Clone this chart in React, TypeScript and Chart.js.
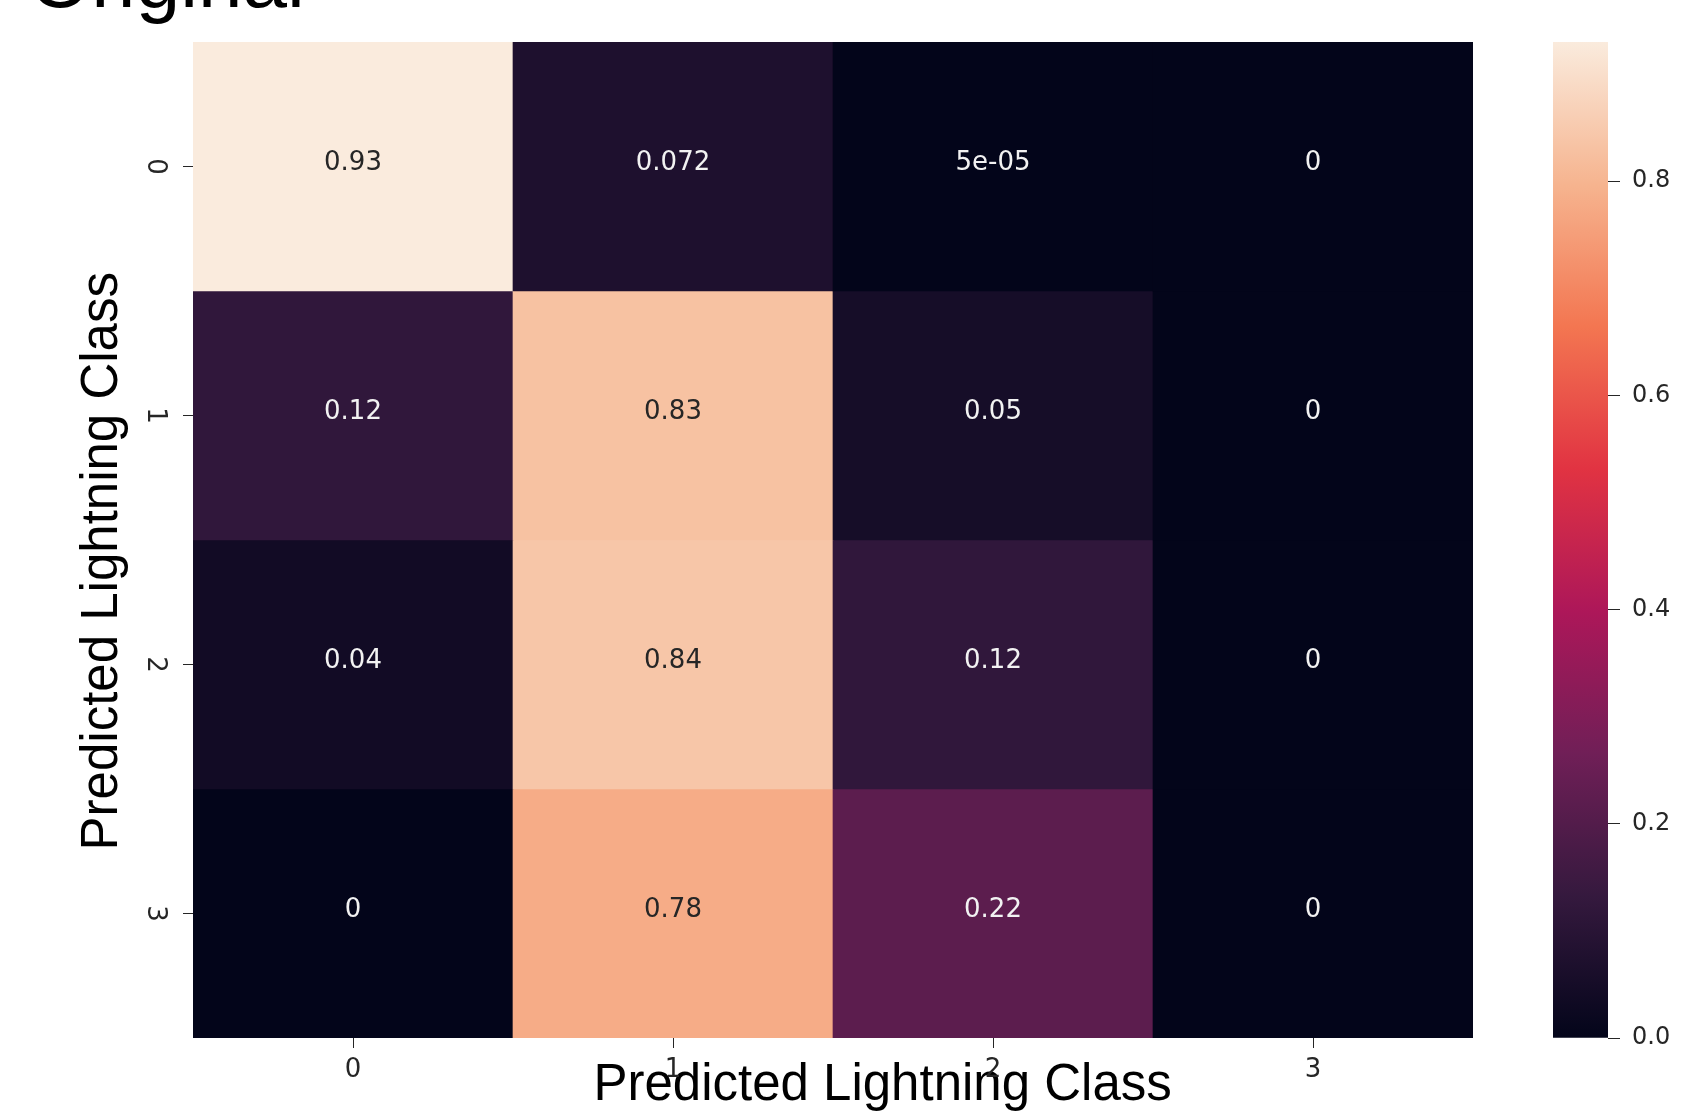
import React, { useEffect, useRef } from 'react';
import { Chart, registerables } from 'chart.js';

Chart.register(...registerables);

// ---------- data ----------
const ROW_LABELS = ['0', '1', '2', '3'];
const COL_LABELS = ['0', '1', '2', '3'];
const ROW_0 = [0.93, 0.072, 0.00005, 0];
const ROW_1 = [0.12, 0.83, 0.05, 0];
const ROW_2 = [0.04, 0.84, 0.12, 0];
const ROW_3 = [0, 0.78, 0.22, 0];
const MATRIX = [ROW_0, ROW_1, ROW_2, ROW_3];
const COLORBAR_TICKS = [0, 0.2, 0.4, 0.6, 0.8];
const X_TITLE = 'Predicted Lightning Class';
const Y_TITLE = 'Predicted Lightning Class';
const FIGURE_LABEL = 'Original';

const VMIN = 0;
const VMAX = Math.max(...MATRIX.flat());

// ---------- style ----------
const TICK_COLOR = '#262626';
const TICK_FONT = { family: '"DejaVu Sans", sans-serif', size: 26 };
const CB_FONT = { family: '"DejaVu Sans", sans-serif', size: 24 };
const TITLE_FONT = { family: '"Liberation Sans", Arial, Helvetica, sans-serif', size: 51, weight: 'normal' as const };

// seaborn "rocket" colormap anchors
const ROCKET_STOPS: [number, string][] = [
  [0, '#03051a'],
  [1 / 7, '#35193e'],
  [2 / 7, '#701f57'],
  [3 / 7, '#ad1759'],
  [4 / 7, '#e13342'],
  [5 / 7, '#f37651'],
  [6 / 7, '#f6b48f'],
  [1, '#faebdd'],
];

function hexToRgb(h: string): number[] {
  const n = parseInt(h.slice(1), 16);
  return [(n >> 16) & 255, (n >> 8) & 255, n & 255];
}

function rocketRgb(t: number): number[] {
  const tt = Math.max(0, Math.min(1, t));
  for (let i = 0; i < ROCKET_STOPS.length - 1; i++) {
    const [t0, c0] = ROCKET_STOPS[i];
    const [t1, c1] = ROCKET_STOPS[i + 1];
    if (tt <= t1) {
      const f = (tt - t0) / (t1 - t0);
      const a = hexToRgb(c0);
      const b = hexToRgb(c1);
      return a.map((v, k) => Math.round(v + (b[k] - v) * f));
    }
  }
  return hexToRgb(ROCKET_STOPS[ROCKET_STOPS.length - 1][1]);
}

function rgbStr(c: number[]): string {
  return `rgb(${c[0]},${c[1]},${c[2]})`;
}

function norm(v: number): number {
  return (v - VMIN) / (VMAX - VMIN);
}

function relLuminance(c: number[]): number {
  const lin = c.map((v) => {
    const s = v / 255;
    return s <= 0.03928 ? s / 12.92 : Math.pow((s + 0.055) / 1.055, 2.4);
  });
  return 0.2126 * lin[0] + 0.7152 * lin[1] + 0.0722 * lin[2];
}

function fmt2g(v: number): string {
  if (v === 0) return '0';
  if (Math.abs(v) < 1e-4) {
    const [m, e] = v.toExponential().split('e');
    const ex = parseInt(e, 10);
    return `${m}e${ex < 0 ? '-' : '+'}${String(Math.abs(ex)).padStart(2, '0')}`;
  }
  return String(Number(v.toPrecision(2)));
}

const annotationPlugin = {
  id: 'cellAnnotations',
  afterDatasetsDraw(chart: any) {
    const { ctx } = chart;
    ctx.save();
    ctx.font = `26px "DejaVu Sans", sans-serif`;
    ctx.textAlign = 'center';
    ctx.textBaseline = 'middle';
    MATRIX.forEach((row, r) => {
      const meta = chart.getDatasetMeta(r);
      row.forEach((v, c) => {
        const el = meta.data[c];
        if (!el) return;
        const { x, y } = el.getCenterPoint();
        const lum = relLuminance(rocketRgb(norm(v)));
        ctx.fillStyle = lum > 0.408 ? '#262626' : '#f2f2f2';
        ctx.fillText(fmt2g(v), x, y - 3);
      });
    });
    ctx.restore();
  },
};

function Heatmap() {
  const ref = useRef<HTMLCanvasElement | null>(null);
  useEffect(() => {
    if (!ref.current) return;
    const datasets = MATRIX.map((row, r) => ({
      label: `row ${ROW_LABELS[r]}`,
      data: row.map(() => [r - 0.5, r + 0.5]),
      backgroundColor: row.map((v) => rgbStr(rocketRgb(norm(v)))),
      borderWidth: 0,
      barPercentage: 1,
      categoryPercentage: 1,
      grouped: false,
    }));
    const chart = new Chart(ref.current, {
      type: 'bar',
      data: { labels: COL_LABELS, datasets: datasets as any },
      options: {
        animation: false,
        responsive: false,
        events: [],
        layout: { padding: { left: 0, right: 67, top: 42, bottom: 0 } },
        plugins: { legend: { display: false }, tooltip: { enabled: false } },
        scales: {
          x: {
            type: 'category',
            position: 'bottom',
            offset: true,
            grid: {
              drawOnChartArea: false,
              drawTicks: true,
              tickLength: 10,
              color: TICK_COLOR,
              lineWidth: 1,
              offset: false,
            },
            border: { display: false },
            ticks: { font: TICK_FONT, color: TICK_COLOR, padding: 7, maxRotation: 0, minRotation: 0 },
            title: {
              display: true,
              text: '\u00a0\u00a0\u00a0\u00a0\u00a0\u00a0\u00a0' + X_TITLE,
              font: TITLE_FONT,
              color: '#000',
              padding: { top: 0, bottom: 2 },
            },
            afterFit: (s: any) => {
              s.height = 81;
            },
          },
          y: {
            type: 'linear',
            position: 'left',
            reverse: true,
            min: -0.5,
            max: 3.5,
            afterBuildTicks: (s: any) => {
              s.ticks = ROW_LABELS.map((_, i) => ({ value: i }));
            },
            ticks: {
              callback: (v: any) => ROW_LABELS[Number(v)] ?? '',
              font: TICK_FONT,
              color: TICK_COLOR,
              padding: 20,
              minRotation: -90,
              maxRotation: -90,
              crossAlign: 'center',
            },
            grid: { drawOnChartArea: false, drawTicks: true, tickLength: 10, color: TICK_COLOR, lineWidth: 1 },
            border: { display: false },
            title: {
              display: true,
              text: Y_TITLE + '\u00a0\u00a0\u00a0',
              font: TITLE_FONT,
              color: '#000',
              padding: { top: 72, bottom: 0 },
            },
            afterFit: (s: any) => {
              s.width = 193;
            },
          },
        },
      } as any,
      plugins: [annotationPlugin],
    });
    return () => chart.destroy();
  }, []);
  return <canvas ref={ref} width={1540} height={1119} style={{ width: 1540, height: 1119, display: 'block' }} />;
}

function Colorbar() {
  const ref = useRef<HTMLCanvasElement | null>(null);
  useEffect(() => {
    if (!ref.current) return;
    const chart = new Chart(ref.current, {
      type: 'bar',
      data: {
        labels: [''],
        datasets: [
          {
            label: 'colorbar',
            data: [[VMIN, VMAX]] as any,
            backgroundColor: (ctx: any) => {
              const ca = ctx.chart.chartArea;
              if (!ca) return ROCKET_STOPS[0][1];
              const g = ctx.chart.ctx.createLinearGradient(0, ca.bottom, 0, ca.top);
              ROCKET_STOPS.forEach(([t, c]) => g.addColorStop(t, c));
              return g;
            },
            borderWidth: 0,
            barPercentage: 1,
            categoryPercentage: 1,
          },
        ],
      },
      options: {
        animation: false,
        responsive: false,
        events: [],
        layout: { padding: { left: 13, right: 0, top: 42, bottom: 81 } },
        plugins: { legend: { display: false }, tooltip: { enabled: false } },
        scales: {
          x: { display: false },
          y: {
            position: 'right',
            min: VMIN,
            max: VMAX,
            afterBuildTicks: (s: any) => {
              s.ticks = COLORBAR_TICKS.map((v) => ({ value: v }));
            },
            ticks: {
              callback: (v: any) => Number(v).toFixed(1),
              font: CB_FONT,
              color: TICK_COLOR,
              padding: 12,
            },
            grid: { drawOnChartArea: false, drawTicks: true, tickLength: 12, color: TICK_COLOR, lineWidth: 1 },
            border: { display: false },
            afterFit: (s: any) => {
              s.width = 75;
            },
          },
        },
      } as any,
    });
    return () => chart.destroy();
  }, []);
  return <canvas ref={ref} width={143} height={1119} style={{ width: 143, height: 1119, display: 'block' }} />;
}

export default function App() {
  return (
    <div
      style={{
        position: 'absolute',
        left: 0,
        top: 0,
        width: 1683,
        height: 1119,
        overflow: 'hidden',
        background: '#ffffff',
      }}
    >
      <div style={{ position: 'absolute', left: 0, top: 0 }}>
        <Heatmap />
      </div>
      <div style={{ position: 'absolute', left: 1540, top: 0 }}>
        <Colorbar />
      </div>
      <div
        style={{
          position: 'absolute',
          left: 29,
          top: -60,
          fontFamily: '"Liberation Sans", Arial, Helvetica, sans-serif',
          fontSize: 80,
          lineHeight: '80px',
          color: '#000',
          whiteSpace: 'nowrap',
        }}
      >
        {FIGURE_LABEL}
      </div>
    </div>
  );
}
